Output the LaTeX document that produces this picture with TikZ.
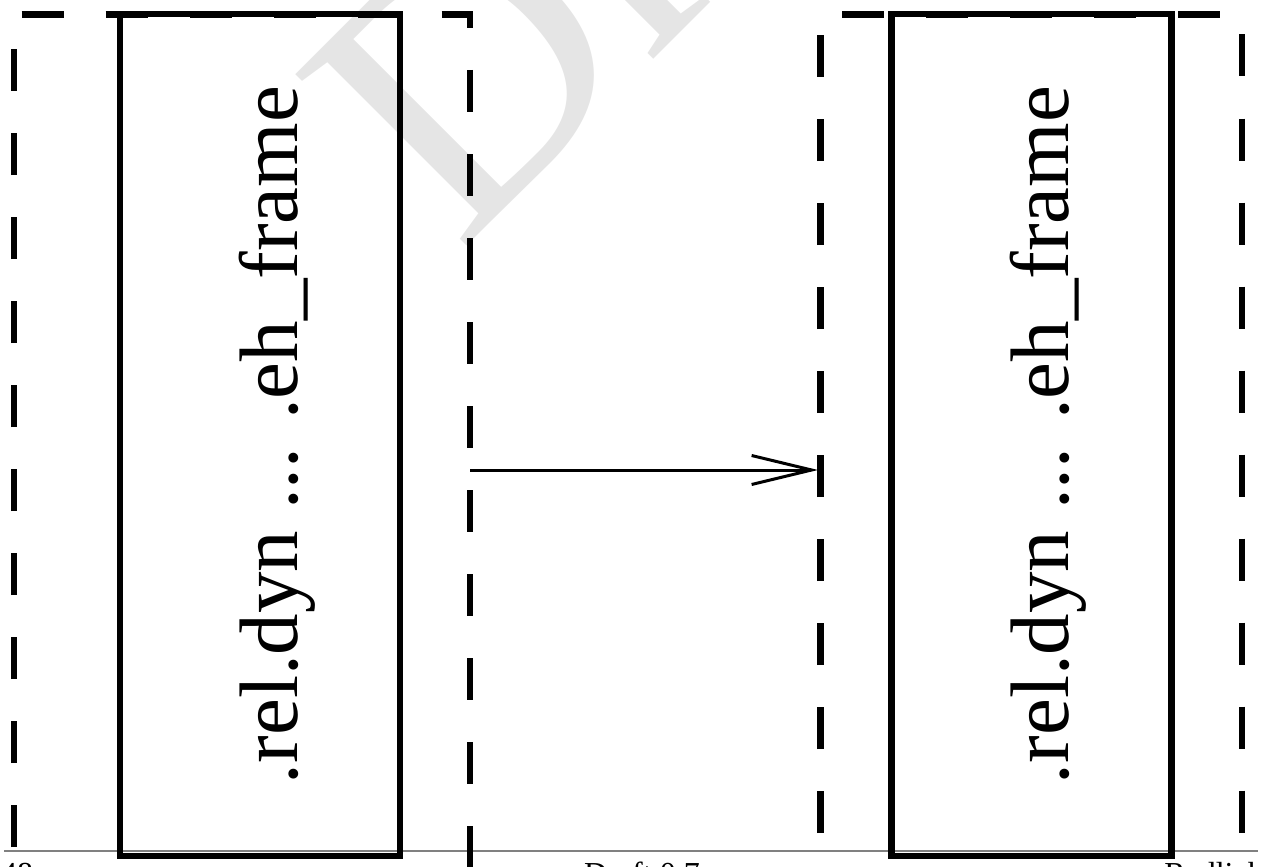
\documentclass[tikz,border=0pt]{standalone}
\usepackage{fontspec}
\setmainfont{Liberation Serif}
\usetikzlibrary{arrows.meta}
\begin{document}
\begin{tikzpicture}[x=1pt, y=-1pt,
    secbox/.style = {draw, line width=6.5pt, minimum width=280pt, minimum height=842pt, inner sep=0pt},
    seclabel/.style = {rotate=90, anchor=base, inner sep=0pt, font=\fontsize{83}{83}\selectfont},
    dashframe/.style = {line width=6.5pt, dash pattern=on 42pt off 42pt},
    footer/.style = {inner sep=0pt, font=\fontsize{32}{32}\selectfont}]
    \useasboundingbox (0,0) rectangle (1267,867);
    \clip (0,0) rectangle (1267,867);
    % watermark
    \node[rotate=45, anchor=base west, inner sep=0pt, text=black!10, font=\fontsize{370}{370}\selectfont] (wm) at (459,254) {Draft};
    % footer
    \draw[gray, line width=1.5pt] (4,851) -- (1258,851);
    \node[footer, anchor=base west] (pg) at (1,884) {48};
    \node[footer, anchor=base] (ver) at (642,884) {Draft 0.7};
    \node[footer, anchor=base east] (au) at (1264,884) {Redlich};
    % files
    \draw[dashframe] (14,931) -- (14,14.5) -- (470,14.5) -- (470,931);
    \draw[dashframe] (820.5,917) -- (820.5,14.5) -- (1242,14.5) -- (1242,917);
    % sections
    \node[secbox] (1) at (260,435) {};
    \node[secbox] (2) at (1031.5,435) {};
    \node[seclabel] (1t) at (297,435) {.rel.dyn ... .eh\_frame};
    \node[seclabel] (2t) at (1068.5,435) {.rel.dyn ... .eh\_frame};
    \coordinate (src) at (470,470);
    \coordinate (dst) at (818,470);
    \draw[-{Straight Barb[length=60pt, width=29pt]}, line width=3pt] (src) -- (dst);
\end{tikzpicture}
\end{document}
